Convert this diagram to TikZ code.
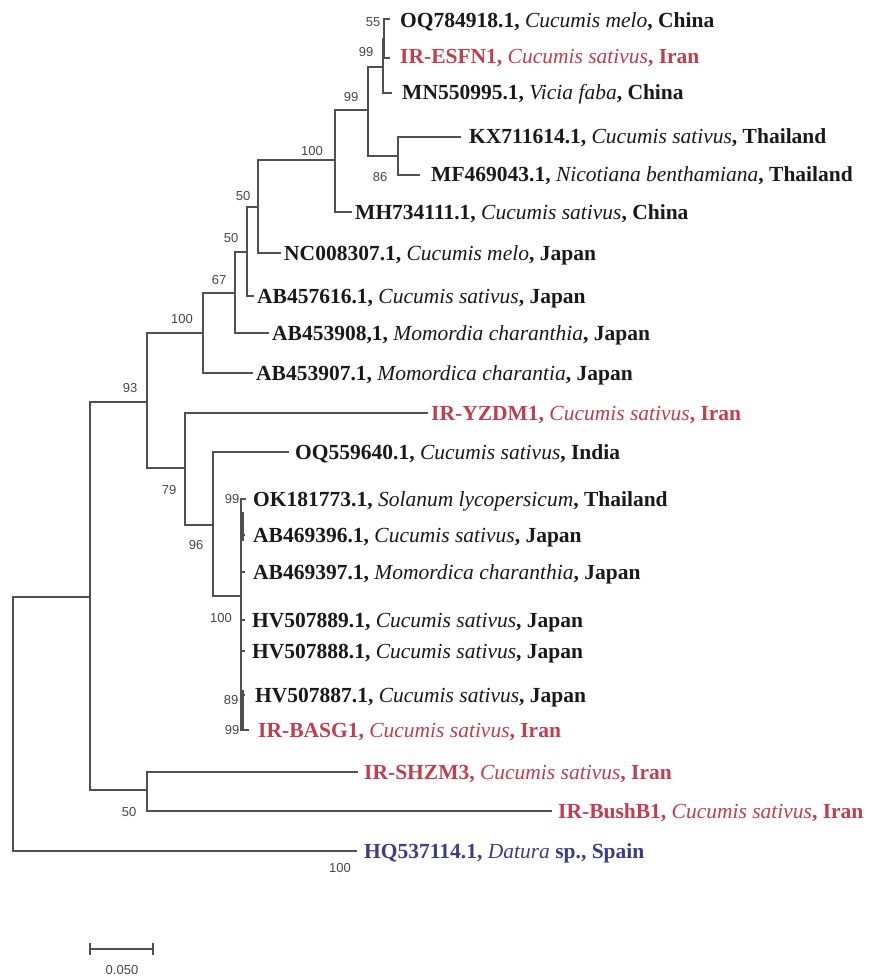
\documentclass[tikz,border=0pt]{standalone}
\usepackage{fontspec}
\setmainfont{Liberation Serif}
\newfontfamily\bsfam{Liberation Sans}
\definecolor{treegray}{RGB}{80,80,80}
\definecolor{bsgray}{RGB}{70,70,70}
\definecolor{irred}{RGB}{192,62,78}
\definecolor{outblue}{RGB}{58,60,140}
\definecolor{tipblack}{RGB}{25,25,25}
\newcommand{\spc}[1]{{\mdseries\itshape #1}}
\tikzset{
  br/.style={draw=treegray, line width=1.7pt, line cap=rect},
  thk/.style={draw=treegray, line width=2.6pt},
  tip/.style={anchor=west, inner sep=0pt, text height=14pt, text depth=0pt,
    font=\fontsize{21.5}{21.5}\selectfont\bfseries, text=tipblack},
  irtip/.style={tip, text=irred},
  bltip/.style={tip, text=outblue},
  bs/.style={inner sep=0pt, text height=9.5pt, text depth=0pt,
    font=\bsfam\fontsize{13}{13}\selectfont, text=bsgray},
}
\begin{document}
\begin{tikzpicture}[x=1pt, y=-1pt]
\useasboundingbox (0,0) rectangle (868,976);
% internal nodes
\coordinate (N55) at (384,39);
\coordinate (N99a) at (383,67);
\coordinate (N99b) at (368,110);
\coordinate (N86) at (398,156);
\coordinate (N100) at (335,160);
\coordinate (N50a) at (258,207);
\coordinate (N50b) at (247,252);
\coordinate (N67) at (235,293);
\coordinate (N100b) at (203,333);
\coordinate (N93) at (147,402);
\coordinate (N79) at (185,468);
\coordinate (N96) at (213,525);
\coordinate (N100c) at (241,596);
\coordinate (NX) at (90,597);
\coordinate (N50c) at (147,790);
\coordinate (Nroot) at (13,724);
% tip ends
\coordinate (e1) at (389,19);
\coordinate (e2) at (389,58);
\coordinate (e3) at (391,93);
\coordinate (e4) at (460,137);
\coordinate (e5) at (419,175);
\coordinate (e6) at (351,212);
\coordinate (e7) at (280,253);
\coordinate (e8) at (253,296);
\coordinate (e9) at (268,333);
\coordinate (e10) at (252,373);
\coordinate (e11) at (427,413);
\coordinate (e12) at (288,452);
\coordinate (e13) at (245,499);
\coordinate (e14) at (244,535);
\coordinate (e15) at (244,572);
\coordinate (e16) at (244,620);
\coordinate (e17) at (244,651);
\coordinate (e18) at (244,695);
\coordinate (e19) at (248,730);
\coordinate (e20) at (357,772);
\coordinate (e21) at (551,811);
\coordinate (e22) at (356,851);
% branches
\draw[br] (N55) |- (e1);
\draw[br] (N55) |- (e2);
\draw[br] (N99a) |- (N55);
\draw[br] (N99a) |- (e3);
\draw[br] (N99b) |- (N99a);
\draw[br] (N99b) |- (N86);
\draw[br] (N86) |- (e4);
\draw[br] (N86) |- (e5);
\draw[br] (N100) |- (N99b);
\draw[br] (N100) |- (e6);
\draw[br] (N50a) |- (N100);
\draw[br] (N50a) |- (e7);
\draw[br] (N50b) |- (N50a);
\draw[br] (N50b) |- (e8);
\draw[br] (N67) |- (N50b);
\draw[br] (N67) |- (e9);
\draw[br] (N100b) |- (N67);
\draw[br] (N100b) |- (e10);
\draw[br] (N93) |- (N100b);
\draw[br] (N93) |- (N79);
\draw[br] (N79) |- (e11);
\draw[br] (N79) |- (N96);
\draw[br] (N96) |- (e12);
\draw[br] (N96) |- (N100c);
\foreach \t in {13,...,19} { \draw[br] (N100c) |- (e\t); }
\draw[br] (NX) |- (N93);
\draw[br] (NX) |- (N50c);
\draw[br] (N50c) |- (e20);
\draw[br] (N50c) |- (e21);
\draw[br] (Nroot) |- (NX);
\draw[br] (Nroot) |- (e22);
\coordinate (s1a) at (243,512);
\coordinate (s1b) at (243,541);
\coordinate (s2a) at (243,690);
\coordinate (s2b) at (243,730);
\draw[thk] (s1a) -- (s1b);
\draw[thk] (s2a) -- (s2b);
% tip labels
\node[tip] (t1) at (400,21) {OQ784918.1, \spc{Cucumis melo}, China};
\node[irtip] (t2) at (400,57) {IR-ESFN1, \spc{Cucumis sativus}, Iran};
\node[tip] (t3) at (402,93) {MN550995.1, \spc{Vicia faba}, China};
\node[tip] (t4) at (469,137) {KX711614.1, \spc{Cucumis sativus}, Thailand};
\node[tip] (t5) at (431,175) {MF469043.1, \spc{Nicotiana benthamiana}, Thailand};
\node[tip] (t6) at (355,212) {MH734111.1, \spc{Cucumis sativus}, China};
\node[tip] (t7) at (284,253) {NC008307.1, \spc{Cucumis melo}, Japan};
\node[tip] (t8) at (257,296) {AB457616.1, \spc{Cucumis sativus}, Japan};
\node[tip] (t9) at (272,333) {AB453908,1, \spc{Momordia charanthia}, Japan};
\node[tip] (t10) at (256,373) {AB453907.1, \spc{Momordica charantia}, Japan};
\node[irtip] (t11) at (431,413) {IR-YZDM1, \spc{Cucumis sativus}, Iran};
\node[tip] (t12) at (295,452) {OQ559640.1, \spc{Cucumis sativus}, India};
\node[tip] (t13) at (253,499) {OK181773.1, \spc{Solanum lycopersicum}, Thailand};
\node[tip] (t14) at (253,535) {AB469396.1, \spc{Cucumis sativus}, Japan};
\node[tip] (t15) at (253,572) {AB469397.1, \spc{Momordica charanthia}, Japan};
\node[tip] (t16) at (252,620) {HV507889.1, \spc{Cucumis sativus}, Japan};
\node[tip] (t17) at (252,651) {HV507888.1, \spc{Cucumis sativus}, Japan};
\node[tip] (t18) at (255,695) {HV507887.1, \spc{Cucumis sativus}, Japan};
\node[irtip] (t19) at (258,730) {IR-BASG1, \spc{Cucumis sativus}, Iran};
\node[irtip] (t20) at (364,772) {IR-SHZM3, \spc{Cucumis sativus}, Iran};
\node[irtip] (t21) at (558,811) {IR-BushB1, \spc{Cucumis sativus}, Iran};
\node[bltip] (t22) at (364,851) {HQ537114.1, \spc{Datura} sp., Spain};
% bootstrap values
\node[bs] (b1) at (373,22) {55};
\node[bs] (b2) at (366,52) {99};
\node[bs] (b3) at (351,97) {99};
\node[bs] (b4) at (312,151) {100};
\node[bs] (b5) at (380,177) {86};
\node[bs] (b6) at (243,196) {50};
\node[bs] (b7) at (231,238) {50};
\node[bs] (b8) at (219,280) {67};
\node[bs] (b9) at (182,319) {100};
\node[bs] (b10) at (130,388) {93};
\node[bs] (b11) at (169,490) {79};
\node[bs] (b12) at (196,545) {96};
\node[bs] (b13) at (232,499) {99};
\node[bs] (b14) at (221,618) {100};
\node[bs] (b15) at (231,700) {89};
\node[bs] (b16) at (232,730) {99};
\node[bs] (b17) at (129,812) {50};
\node[bs] (b18) at (340,868) {100};
% scale bar
\coordinate (sbL) at (90,949);
\coordinate (sbR) at (153,949);
\coordinate (sbLt) at (90,943);
\coordinate (sbLb) at (90,955);
\coordinate (sbRt) at (153,943);
\coordinate (sbRb) at (153,955);
\draw[br, line cap=butt] (sbL) -- (sbR);
\draw[br, line cap=butt] (sbLt) -- (sbLb);
\draw[br, line cap=butt] (sbRt) -- (sbRb);
\node[bs] (sblab) at (122,970) {0.050};
\end{tikzpicture}
\end{document}
